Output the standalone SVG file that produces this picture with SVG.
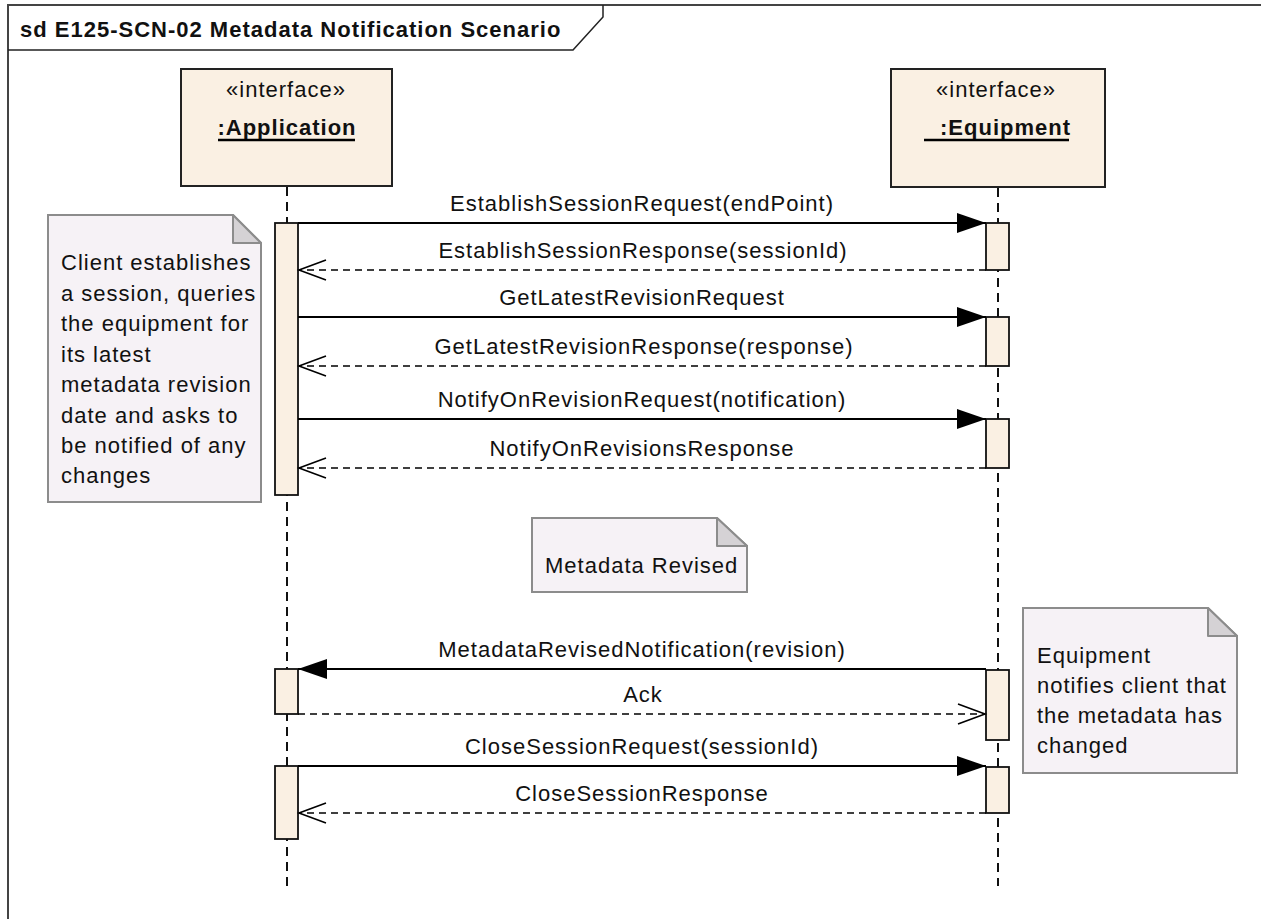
<svg xmlns="http://www.w3.org/2000/svg" width="1261" height="919" viewBox="0 0 1261 919">
<style>
text{font-family:"Liberation Sans",Arial,sans-serif;font-size:22px;letter-spacing:1px;fill:#111}
.title{font-weight:bold}
.b{font-weight:bold}
.c{text-anchor:middle}
.frame{fill:none;stroke:#444;stroke-width:2}
.box{fill:#FAF0E3;stroke:#222;stroke-width:2}
.act{fill:#FAF0E3;stroke:#111;stroke-width:1.8}
.life{stroke:#111;stroke-width:2;stroke-dasharray:9,6;fill:none}
.note{fill:#F6F2F6;stroke:#8C8C8C;stroke-width:2}
.fold{fill:#D5D2D5;stroke:#8C8C8C;stroke-width:2;stroke-linejoin:round}
.sync{stroke:#000;stroke-width:2;fill:none;marker-end:url(#filled)}
.reply{stroke:#000;stroke-width:1.6;stroke-dasharray:7,5;fill:none;marker-end:url(#open)}
.ul{stroke:#000;stroke-width:2.5}
</style>
<defs>
<marker id="filled" viewBox="0 0 29 20" refX="29" refY="10" markerWidth="29" markerHeight="20" markerUnits="userSpaceOnUse" orient="auto">
<path d="M0,0 L29,10 L0,20 z" fill="#000"/>
</marker>
<marker id="open" viewBox="-2 -2 31 24" refX="27" refY="10" markerWidth="31" markerHeight="24" markerUnits="userSpaceOnUse" orient="auto" overflow="visible">
<path d="M0,0 L27,10 L0,20" fill="none" stroke="#000" stroke-width="1.6"/>
</marker>
</defs>
<rect width="1261" height="919" fill="#fff"/>
<g id="frame">
<path class="frame" d="M8,919 L8,5 L1261,5"/>
<path d="M8,50 L573,50 L603,17 L603,5" fill="none" stroke="#222" stroke-width="1.5"/>
<text class="title" x="20" y="37">sd E125-SCN-02 Metadata Notification Scenario</text>
</g>
<g id="lifelines">
<line class="life" x1="287" y1="187" x2="287" y2="886"/>
<line class="life" x1="998" y1="188" x2="998" y2="886"/>
</g>
<g id="application">
<rect class="box" x="181" y="69" width="211" height="117"/>
<text class="c" x="286" y="97">«interface»</text>
<text class="c b" x="287" y="135">:Application</text>
<line class="ul" x1="218" y1="140" x2="355" y2="140"/>
</g>
<g id="equipment">
<rect class="box" x="891" y="69" width="214" height="118"/>
<text class="c" x="996" y="97">«interface»</text>
<text class="b" x="940" y="135">:Equipment</text>
<line class="ul" x1="924" y1="140" x2="1069" y2="140"/>
</g>
<g id="activations">
<rect class="act" x="275" y="223" width="23" height="272"/>
<rect class="act" x="275" y="669" width="23" height="45"/>
<rect class="act" x="275" y="766" width="23" height="73"/>
<rect class="act" x="986" y="223" width="23" height="47"/>
<rect class="act" x="986" y="317" width="23" height="49"/>
<rect class="act" x="986" y="419" width="23" height="49"/>
<rect class="act" x="986" y="670" width="23" height="70"/>
<rect class="act" x="986" y="767" width="23" height="46"/>
</g>
<g id="connectors">
<line class="sync" x1="298" y1="223" x2="986" y2="223"/>
<text class="c" x="642" y="211">EstablishSessionRequest(endPoint)</text>
<line class="reply" x1="986" y1="270" x2="299" y2="270"/>
<text class="c" x="643" y="258">EstablishSessionResponse(sessionId)</text>
<line class="sync" x1="298" y1="317" x2="986" y2="317"/>
<text class="c" x="642" y="305">GetLatestRevisionRequest</text>
<line class="reply" x1="986" y1="366" x2="299" y2="366"/>
<text class="c" x="644" y="354">GetLatestRevisionResponse(response)</text>
<line class="sync" x1="298" y1="419" x2="986" y2="419"/>
<text class="c" x="642" y="407">NotifyOnRevisionRequest(notification)</text>
<line class="reply" x1="986" y1="468" x2="299" y2="468"/>
<text class="c" x="642" y="456">NotifyOnRevisionsResponse</text>
<line class="sync" x1="986" y1="669" x2="298" y2="669"/>
<text class="c" x="642" y="657">MetadataRevisedNotification(revision)</text>
<line class="reply" x1="298" y1="714" x2="985" y2="714"/>
<text class="c" x="643" y="702">Ack</text>
<line class="sync" x1="298" y1="766" x2="986" y2="766"/>
<text class="c" x="642" y="754">CloseSessionRequest(sessionId)</text>
<line class="reply" x1="986" y1="813" x2="299" y2="813"/>
<text class="c" x="642" y="801">CloseSessionResponse</text>
</g>
<g id="note-client">
<path class="note" d="M48,215 L233,215 L261,243 L261,502 L48,502 z"/>
<path class="fold" d="M233,215 L233,243 L261,243 z"/>
<text x="61" y="270">Client establishes</text>
<text x="61" y="300.5">a session, queries</text>
<text x="61" y="331">the equipment for</text>
<text x="61" y="361.5">its latest</text>
<text x="61" y="392">metadata revision</text>
<text x="61" y="422.5">date and asks to</text>
<text x="61" y="453">be notified of any</text>
<text x="61" y="483">changes</text>
</g>
<g id="note-revised">
<path class="note" d="M532,518 L717,518 L747,546 L747,592 L532,592 z"/>
<path class="fold" d="M717,518 L717,546 L747,546 z"/>
<text x="545" y="573">Metadata Revised</text>
</g>
<g id="note-equipment">
<path class="note" d="M1023,608 L1208,608 L1237,636 L1237,773 L1023,773 z"/>
<path class="fold" d="M1208,608 L1208,636 L1237,636 z"/>
<text x="1037" y="663">Equipment</text>
<text x="1037" y="693">notifies client that</text>
<text x="1037" y="723">the metadata has</text>
<text x="1037" y="753">changed</text>
</g>
</svg>
